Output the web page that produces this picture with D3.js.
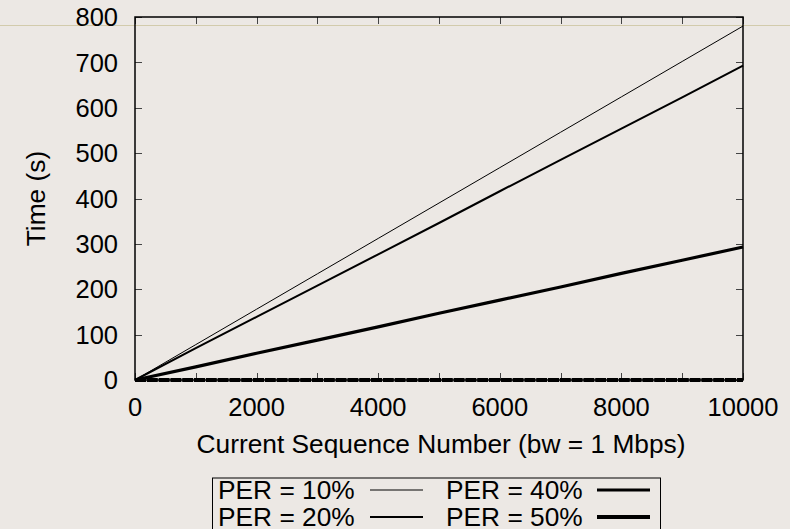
<!DOCTYPE html>
<html>
<head>
<meta charset="utf-8">
<script src="https://cdn.jsdelivr.net/npm/d3@7"></script>
<style>
  html, body { margin: 0; padding: 0; background: #ece8e4; }
  svg { display: block; font-family: "Liberation Sans", Arial, Helvetica, sans-serif; }
</style>
</head>
<body>
<script>
// ---- data ----
const seqNumbers = [0, 1000, 2000, 3000, 4000, 5000, 6000, 7000, 8000, 9000, 10000];
const per10 = [0, 78, 156, 234, 312, 390, 468, 546, 624, 702, 780];
const per20 = [0, 70, 139, 208, 277, 346, 416, 485, 554, 623, 693];
const per40 = [0, 29, 59, 88, 117, 147, 176, 205, 235, 264, 293];
const per50 = [0, 0, 0, 0, 0, 0, 0, 0, 0, 0, 0];
const seriesNames = ["PER = 10%", "PER = 20%", "PER = 40%", "PER = 50%"];
const xTickValues = [0, 1000, 2000, 3000, 4000, 5000, 6000, 7000, 8000, 9000, 10000];
const xTickLabels = [0, 2000, 4000, 6000, 8000, 10000];
const yTickValues = [0, 100, 200, 300, 400, 500, 600, 700, 800];
const xTitle = "Current Sequence Number (bw = 1 Mbps)";
const yTitle = "Time (s)";

const seriesValues = [per10, per20, per40, per50];
const widths = [1, 2, 3.2, 4.2];

const W = 790, H = 529;
const m = { left: 135, right: 743, top: 17, bottom: 380 };

const svg = d3.select("body").append("svg").attr("width", W).attr("height", H);

// faint separator line in the reference
svg.append("line").attr("x1", 0).attr("x2", W).attr("y1", 25.5).attr("y2", 25.5)
  .attr("stroke", "#d2cbac").attr("stroke-width", 1);

const x = d3.scaleLinear().domain([0, 10000]).range([m.left, m.right]);
const y = d3.scaleLinear().domain([0, 800]).range([m.bottom, m.top]);

const fs = 25.5;
const fsTitle = 26.3;

// ticks (inward, mirrored)
const tickLen = 7;
const gTicks = svg.append("g").attr("stroke", "#444").attr("stroke-width", 1);
xTickValues.forEach(v => {
  const px = Math.round(x(v)) + 0.5;
  gTicks.append("line").attr("x1", px).attr("x2", px).attr("y1", m.bottom).attr("y2", m.bottom - tickLen);
  gTicks.append("line").attr("x1", px).attr("x2", px).attr("y1", m.top).attr("y2", m.top + tickLen);
});
yTickValues.forEach(v => {
  const py = Math.round(y(v)) + 0.5;
  gTicks.append("line").attr("x1", m.left).attr("x2", m.left + tickLen).attr("y1", py).attr("y2", py);
  gTicks.append("line").attr("x1", m.right).attr("x2", m.right - tickLen).attr("y1", py).attr("y2", py);
});

// tick labels
svg.append("g").selectAll("text").data(yTickValues).join("text")
  .attr("x", m.left - 17).attr("y", d => y(d)).attr("dy", "0.36em")
  .attr("text-anchor", "end").attr("font-size", fs).attr("fill", "#000")
  .text(d => d);
svg.append("g").selectAll("text").data(xTickLabels).join("text")
  .attr("x", d => x(d)).attr("y", 416)
  .attr("text-anchor", "middle").attr("font-size", fs).attr("fill", "#000")
  .text(d => d);

// titles
svg.append("text").attr("x", 441).attr("y", 453)
  .attr("text-anchor", "middle").attr("font-size", fsTitle).text(xTitle);
svg.append("text").attr("transform", `translate(45,${(m.top + m.bottom) / 2}) rotate(-90)`)
  .attr("text-anchor", "middle").attr("font-size", fsTitle).text(yTitle);

// series lines
const line = d3.line().x((d, i) => x(seqNumbers[i])).y(d => y(d));
seriesValues.forEach((vals, k) => {
  const p = svg.append("path").datum(vals).attr("d", line)
    .attr("fill", "none").attr("stroke", "#000").attr("stroke-width", widths[k])
    .attr("stroke-linejoin", "round");
  if (k === 3) p.attr("stroke-dasharray", "11,0.8");
});

// frame
svg.append("rect").attr("x", m.left).attr("y", m.top)
  .attr("width", m.right - m.left).attr("height", m.bottom - m.top)
  .attr("fill", "none").attr("stroke", "#000").attr("stroke-width", 1.5);

// legend
const lg = svg.append("g");
lg.append("rect").attr("x", 212.5).attr("y", 478).attr("width", 448).attr("height", 60)
  .attr("fill", "none").attr("stroke", "#000").attr("stroke-width", 1);
const legPos = [
  { tx: 218, lx1: 370, lx2: 423, y: 490 },
  { tx: 218, lx1: 370, lx2: 423, y: 517 },
  { tx: 446, lx1: 597, lx2: 650, y: 490 },
  { tx: 446, lx1: 597, lx2: 650, y: 517 }
];
seriesNames.forEach((name, k) => {
  const p = legPos[k];
  lg.append("text").attr("x", p.tx).attr("y", p.y + 8.5).attr("font-size", fsTitle).text(name);
  lg.append("line").attr("x1", p.lx1).attr("x2", p.lx2).attr("y1", p.y).attr("y2", p.y)
    .attr("stroke", "#000").attr("stroke-width", widths[k]);
});
</script>
</body>
</html>
